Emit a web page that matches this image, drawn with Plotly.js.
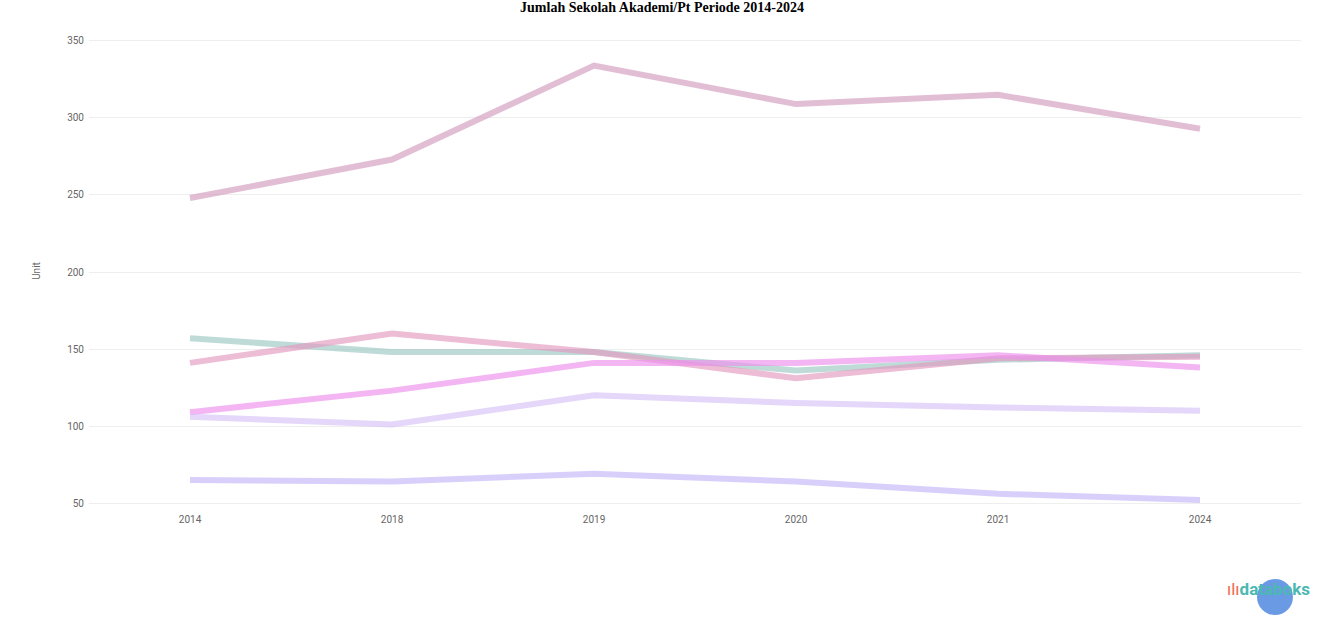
<!DOCTYPE html>
<html><head><meta charset="utf-8">
<script src="https://cdn.plot.ly/plotly-3.0.1.min.js"></script>
<style>html,body{margin:0;padding:0;background:#fff}#chart{width:1324px;height:617px}</style>
</head><body><div id="chart"></div>
<script>
const years = ["2014", "2018", "2019", "2020", "2021", "2024"];
const seriesNames = ["Seri 1", "Seri 2", "Seri 3", "Seri 4", "Seri 5", "Seri 6"];
const s1 = [248, 273, 334, 309, 315, 293];
const s2 = [157, 148, 148, 136, 143, 146];
const s3 = [141, 160, 148, 131, 144, 145];
const s4 = [109, 123, 141, 141, 146, 138];
const s5 = [106, 101, 120, 115, 112, 110];
const s6 = [65, 64, 69, 64, 56, 52];
const yTicks = [50, 100, 150, 200, 250, 300, 350];

const colors = ["#d49cc0", "#9cc8c4", "#e39ac0", "#ee90ee", "#d6c2f8", "#c4b8fa"];
const all = [s1, s2, s3, s4, s5, s6];
const traces = all.map((v, i) => ({
  x: years, y: v, type: "scatter", mode: "lines", name: seriesNames[i],
  line: {color: colors[i], width: 6, shape: "linear"}, opacity: 0.65, hoverinfo: "x+y+name"
}));

const layout = {
  width: 1324, height: 617,
  margin: {l: 89, r: 23, t: 30, b: 105},
  paper_bgcolor: "#fff", plot_bgcolor: "#fff",
  showlegend: false,
  title: {text: "<b>Jumlah Sekolah Akademi/Pt Periode 2014-2024</b>", x: 0.5, xanchor: "center", y: 0.997, yanchor: "top",
    font: {family: "Liberation Serif, Times New Roman, serif", size: 14, color: "#000"}},
  xaxis: {type: "category", range: [-0.5, 5.5], showgrid: false, zeroline: false, showline: false,
    ticks: "", tickfont: {family: "Roboto, Arial, sans-serif", size: 10, color: "#666"}},
  yaxis: {range: [44.2, 357.1], tickvals: yTicks, ticktext: yTicks.map(String),
    showgrid: true, gridcolor: "#eeeeee", gridwidth: 1, zeroline: false, showline: false,
    ticks: "", ticklabelstandoff: 4, tickfont: {family: "Roboto, Arial, sans-serif", size: 10, color: "#666"},
    title: {text: "Unit", font: {family: "Roboto, Arial, sans-serif", size: 10, color: "#666"}, standoff: 24}},
  annotations: [
    {xref: "paper", yref: "paper", x: 1.009, y: -0.16, xanchor: "right", yanchor: "middle", showarrow: false,
     text: "<span style='color:#ef6a4c'>ılı</span><b><span style='color:#4cb8b2'>databoks</span></b>",
     font: {family: "Roboto, Arial, sans-serif", size: 17}}
  ],
  shapes: [
    {type: "circle", xref: "paper", yref: "paper", x0: (1257-89)/1212, x1: (1293-89)/1212, y0: (512-615)/482, y1: (512-579)/482,
     fillcolor: "#5b8fe2", line: {width: 0}, opacity: 0.9}
  ]
};
Plotly.newPlot("chart", traces, layout, {displayModeBar: false});
</script></body></html>
